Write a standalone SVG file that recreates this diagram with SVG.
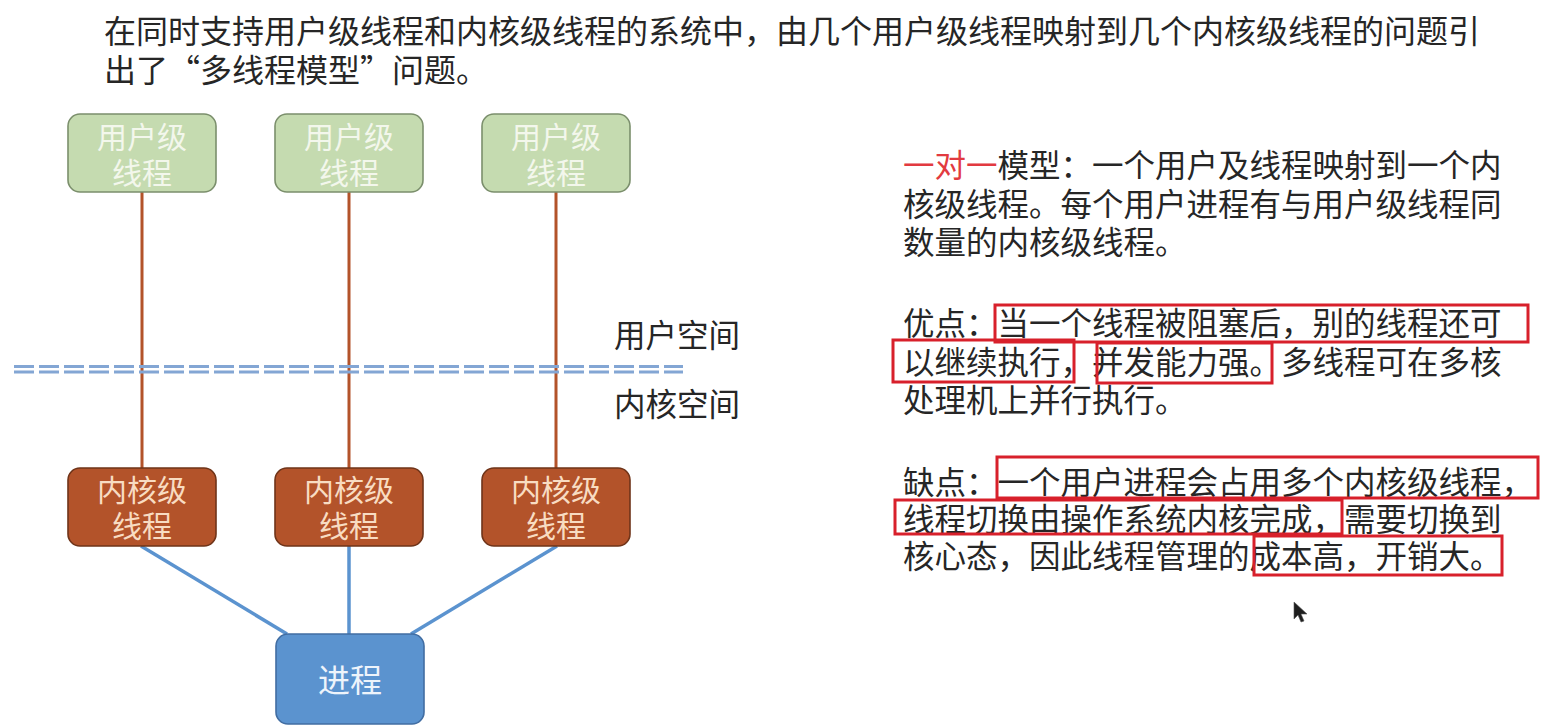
<svg xmlns="http://www.w3.org/2000/svg" width="1559" height="726" viewBox="0 0 1559 726">
<style>
text { font-family: "Noto Sans CJK SC", "Noto Sans", sans-serif; }
.body { font-size: 31.5px; fill: #262626; }
.top { font-size: 32px; fill: #262626; }
.ubox { fill: #c5dbb0; stroke: #7b8f6c; stroke-width: 1.6; }
.utxt { font-size: 30px; fill: #f3f7ec; text-anchor: middle; }
.kbox { fill: #b3532a; stroke: #6f3419; stroke-width: 1.6; }
.ktxt { font-size: 30px; fill: #f8dcc2; text-anchor: middle; }
.pbox { fill: #5b93cf; stroke: #416da2; stroke-width: 1.6; }
.ptxt { font-size: 32px; fill: #eef4fb; text-anchor: middle; }
.brown { stroke: #b3532a; stroke-width: 3; fill: none; }
.blue { stroke: #5b93cf; stroke-width: 3.5; fill: none; }
.dash { stroke: #83a6d4; stroke-width: 2.8; stroke-dasharray: 20 5; fill: none; }
.hl { fill: none; stroke: #d8202b; stroke-width: 3; }
.space { font-size: 31.5px; fill: #262626; }
</style>

<g id="title">
<text class="top" x="104" y="43">在同时支持用户级线程和内核级线程的系统中，由几个用户级线程映射到几个内核级线程的问题引</text>
<text class="top" x="104" y="82">出了“多线程模型”问题。</text>
</g>

<g id="connectors">
<line class="brown" x1="142" y1="192" x2="142" y2="468"/>
<line class="brown" x1="349" y1="192" x2="349" y2="468"/>
<line class="brown" x1="556" y1="192" x2="556" y2="468"/>
<line class="blue" x1="141" y1="546" x2="287" y2="634"/>
<line class="blue" x1="349" y1="546" x2="349" y2="634"/>
<line class="blue" x1="557" y1="546" x2="411" y2="634"/>
</g>

<g id="boundary">
<line class="dash" x1="14" y1="366.5" x2="683" y2="366.5"/>
<line class="dash" x1="14" y1="372" x2="683" y2="372"/>
<text class="space" x="614" y="347">用户空间</text>
<text class="space" x="614" y="416">内核空间</text>
</g>

<g id="user1">
<rect class="ubox" x="68" y="114" width="148" height="78" rx="12"/>
<text class="utxt" x="142" y="148">用户级</text>
<text class="utxt" x="142" y="184">线程</text>
</g>
<g id="user2">
<rect class="ubox" x="275" y="114" width="148" height="78" rx="12"/>
<text class="utxt" x="349" y="148">用户级</text>
<text class="utxt" x="349" y="184">线程</text>
</g>
<g id="user3">
<rect class="ubox" x="482" y="114" width="148" height="78" rx="12"/>
<text class="utxt" x="556" y="148">用户级</text>
<text class="utxt" x="556" y="184">线程</text>
</g>

<g id="kernel1">
<rect class="kbox" x="68" y="468" width="148" height="78" rx="12"/>
<text class="ktxt" x="142" y="501">内核级</text>
<text class="ktxt" x="142" y="537">线程</text>
</g>
<g id="kernel2">
<rect class="kbox" x="275" y="468" width="148" height="78" rx="12"/>
<text class="ktxt" x="349" y="501">内核级</text>
<text class="ktxt" x="349" y="537">线程</text>
</g>
<g id="kernel3">
<rect class="kbox" x="482" y="468" width="148" height="78" rx="12"/>
<text class="ktxt" x="556" y="501">内核级</text>
<text class="ktxt" x="556" y="537">线程</text>
</g>

<g id="process">
<rect class="pbox" x="276" y="634" width="148" height="90" rx="12"/>
<text class="ptxt" x="350" y="692">进程</text>
</g>

<g id="description">
<text class="body" x="903" y="177"><tspan fill="#e23a40">一对一</tspan>模型：一个用户及线程映射到一个内</text>
<text class="body" x="903" y="216">核级线程。每个用户进程有与用户级线程同</text>
<text class="body" x="903" y="254">数量的内核级线程。</text>

<text class="body" x="903" y="335">优点：当一个线程被阻塞后，别的线程还可</text>
<text class="body" x="903" y="374">以继续执行，并发能力强。多线程可在多核</text>
<text class="body" x="903" y="412">处理机上并行执行。</text>

<text class="body" x="903" y="494">缺点：一个用户进程会占用多个内核级线程，</text>
<text class="body" x="903" y="531">线程切换由操作系统内核完成，需要切换到</text>
<text class="body" x="903" y="568">核心态，因此线程管理的成本高，开销大。</text>
</g>

<g id="highlights">
<rect class="hl" x="995" y="305" width="533" height="37"/>
<rect class="hl" x="893" y="340" width="181" height="42"/>
<rect class="hl" x="1097" y="343" width="175" height="40"/>
<rect class="hl" x="997" y="457" width="541" height="41"/>
<rect class="hl" x="895" y="500" width="447" height="34"/>
<rect class="hl" x="1254" y="536" width="248" height="39"/>
</g>

<g id="cursor">
<polygon points="1294,602 1294,619 1298,615 1301,622 1304,621 1301,614 1307,614" fill="#1e1e1e" stroke="#555" stroke-width="0.6"/>
</g>
</svg>
